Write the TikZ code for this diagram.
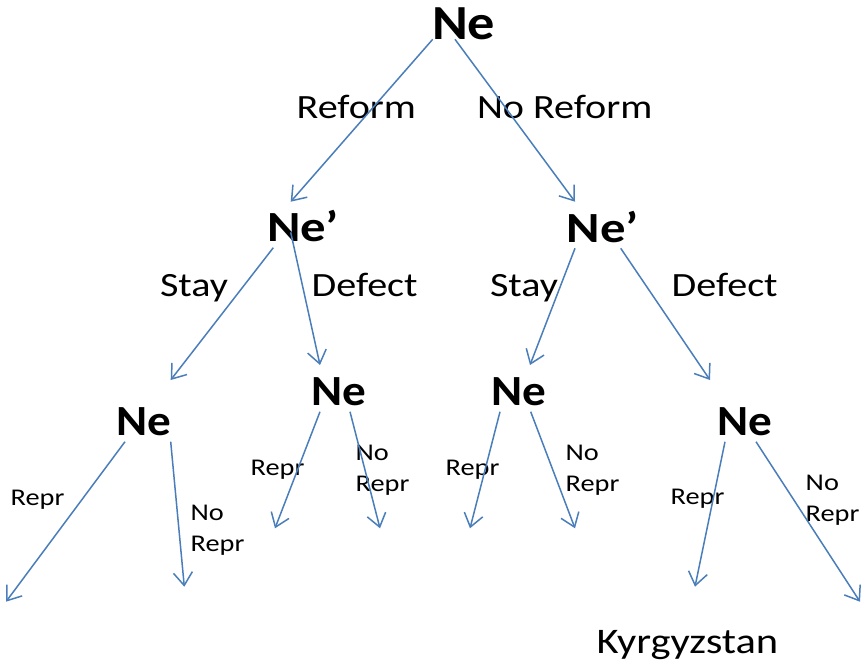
\documentclass[tikz,border=0pt]{standalone}
\usepackage{fontspec}
\setmainfont{Carlito}
\usetikzlibrary{arrows.meta}
\definecolor{edgeblue}{HTML}{4A7EBB}
\tikzset{
  lbl/.style={inner sep=0pt, outer sep=0pt, anchor=base west, transform shape, xscale=1.18},
  root/.style={lbl, xscale=0.94, font=\bfseries\fontsize{49}{49}\selectfont},
  mover/.style={lbl, font=\bfseries\fontsize{43}{43}\selectfont},
  ruler/.style={lbl, xscale=0.93, font=\bfseries\fontsize{43}{43}\selectfont},
  choice/.style={lbl, font=\fontsize{34}{34}\selectfont},
  small/.style={lbl, align=left, font=\fontsize{24}{31.7}\selectfont},
  country/.style={lbl, font=\fontsize{36}{36}\selectfont},
  move/.style={draw=edgeblue, line width=1.5pt,
    -{Straight Barb[length=13pt,width=19pt,line width=1.5pt]}}
}
\begin{document}
\begin{tikzpicture}[x=1pt,y=-1pt]
\useasboundingbox (0,0) rectangle (863,664);

% decision nodes
\node[root]  (n0)  at (432,39.5)   {Ne};
\node[mover] (n1)  at (267,241.7)  {Ne’};
\node[mover] (n2)  at (566.7,242.7){Ne’};
\node[ruler] (n11) at (116.7,435)  {Ne};
\node[ruler] (n12) at (311.7,405)  {Ne};
\node[ruler] (n21) at (491.7,405)  {Ne};
\node[ruler] (n22) at (717.3,435)  {Ne};

% move labels
\node[choice] (lref)  at (296.7,118.3) {Reform};
\node[choice] (lnref) at (477,118.3)   {No Reform};
\node[choice] (ls1)   at (160,296.7)   {Stay};
\node[choice] (ld1)   at (311.7,296.7) {Defect};
\node[choice] (ls2)   at (490,296.7)   {Stay};
\node[choice] (ld2)   at (671.7,296.7) {Defect};

% two-line labels are placed by the baseline of their last line
\node[small] (r11) at (10.7,505)   {Repr};
\node[small] (q11) at (190.7,551.7){No\\Repr};
\node[small] (r12) at (250.7,475)  {Repr};
\node[small] (q12) at (355.7,491.7){No\\Repr};
\node[small] (r21) at (445.7,475)  {Repr};
\node[small] (q21) at (565.7,491.7){No\\Repr};
\node[small] (r22) at (670.7,504)  {Repr};
\node[small] (q22) at (805.7,521.7){No\\Repr};

\node[country] (kg) at (596.7,653.3) {Kyrgyzstan};

% branch start points
\coordinate (s0a)  at (432.7,39.3);
\coordinate (s0b)  at (455,39.3);
\coordinate (s1a)  at (273.3,247.7);
\coordinate (s1b)  at (290.7,232.3);
\coordinate (s2a)  at (575,248.3);
\coordinate (s2b)  at (620.7,248.3);
\coordinate (s11a) at (125,441.7);
\coordinate (s11b) at (170.7,441.7);
\coordinate (s12a) at (320,411.7);
\coordinate (s12b) at (350,411.7);
\coordinate (s21a) at (500,411.7);
\coordinate (s21b) at (530.7,411.7);
\coordinate (s22a) at (725,441.7);
\coordinate (s22b) at (756,441.7);

% branch end points
\coordinate (e0a)  at (290.7,201.7);
\coordinate (e0b)  at (575,201.7);
\coordinate (e1a)  at (170.7,380);
\coordinate (e1b)  at (320,365);
\coordinate (e2a)  at (530,365);
\coordinate (e2b)  at (710,380);
\coordinate (e11a) at (6,601.7);
\coordinate (e11b) at (184.3,586.7);
\coordinate (e12a) at (275,528.3);
\coordinate (e12b) at (380,528.3);
\coordinate (e21a) at (470,528.3);
\coordinate (e21b) at (575,528.3);
\coordinate (e22a) at (695,586.7);
\coordinate (e22b) at (860,601.7);

% branches
\foreach \b in {0a,0b,1a,1b,2a,2b,11a,11b,12a,12b,21a,21b,22a,22b}
  \draw[move] (s\b) -- (e\b);
\end{tikzpicture}
\end{document}
